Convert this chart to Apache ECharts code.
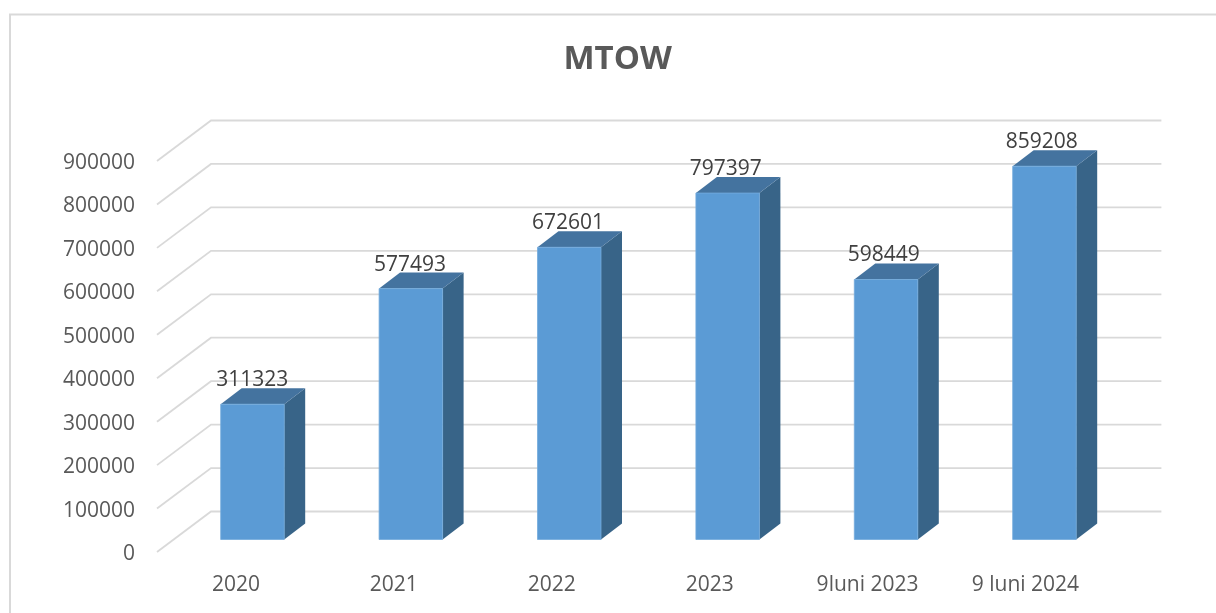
<!DOCTYPE html>
<html>
<head>
<meta charset="utf-8">
<style>
  html, body { margin: 0; padding: 0; background: #fff; }
  #chart { width: 1216px; height: 613px; }
</style>
<script src="https://cdn.jsdelivr.net/npm/echarts@6/dist/echarts.min.js"></script>
</head>
<body>
<div id="chart"></div>
<script>
const categories = ["2020", "2021", "2022", "2023", "9luni 2023", "9 luni 2024"];
const values = [311323, 577493, 672601, 797397, 598449, 859208];
const tickValues = [0, 100000, 200000, 300000, 400000, 500000, 600000, 700000, 800000, 900000];

const FONT = '"Open Sans", sans-serif';
// offsets of the fake 3D box, in pixels
const WALL_DX = 54, WALL_DY = -40.5;
const WALL_EXTRA_W = 3;
const BAR_DX = 16.5, BAR_DY = -12.5;
const BAR_STEP_EXTRA = 0.5; // bars sit a bit wider apart than the axis labels
const DEPTH_DX = 21, DEPTH_DY = -16;
const BAR_W = 63.5;
const LABEL_DX = 16.2;

const chart = echarts.init(document.getElementById("chart"), null, { renderer: "canvas" });

function renderWall(params, api) {
  const p = api.coord([0, api.value(1)]);
  const r = params.coordSys;
  return {
    type: "polyline",
    silent: true,
    shape: {
      points: [
        [r.x, p[1]],
        [r.x + WALL_DX, p[1] + WALL_DY],
        [r.x + r.width + WALL_DX + WALL_EXTRA_W, p[1] + WALL_DY]
      ]
    },
    style: { stroke: "#d9d9d9", lineWidth: 1.8, fill: null }
  };
}

function renderBar(params, api) {
  const top = api.coord([api.value(0), api.value(1)]);
  const base = api.coord([api.value(0), 0]);
  const x0 = top[0] + BAR_DX + params.dataIndex * BAR_STEP_EXTRA - BAR_W / 2;
  const x1 = x0 + BAR_W;
  const y0 = top[1] + BAR_DY;
  const y1 = base[1] + BAR_DY;
  return {
    type: "group",
    children: [
      {
        type: "polygon",
        shape: { points: [[x1, y0], [x1 + DEPTH_DX, y0 + DEPTH_DY], [x1 + DEPTH_DX, y1 + DEPTH_DY], [x1, y1]] },
        style: { fill: "#386488" }
      },
      {
        type: "polygon",
        shape: { points: [[x0, y0], [x0 + DEPTH_DX, y0 + DEPTH_DY], [x1 + DEPTH_DX, y0 + DEPTH_DY], [x1, y0]] },
        style: { fill: "#44739f" }
      },
      {
        type: "rect",
        shape: { x: x0, y: y0, width: BAR_W, height: y1 - y0 },
        style: { fill: "#5b9bd5", stroke: "#74abdc", lineWidth: 0.8 }
      },
      {
        type: "text",
        style: {
          text: String(api.value(1)),
          x: top[0] + LABEL_DX,
          y: y0 - 13.5,
          textAlign: "center",
          textVerticalAlign: "bottom",
          font: "21px " + FONT,
          fill: "#404040"
        }
      }
    ]
  };
}

chart.setOption({
  animation: false,
  backgroundColor: "#ffffff",
  title: {
    text: "MTOW",
    left: 558.5,
    top: 38.5,
    textStyle: { color: "#595959", fontFamily: FONT, fontSize: 33, fontWeight: "bold" }
  },
  graphic: [
    {
      type: "polyline",
      silent: true,
      shape: { points: [[10, 613], [10, 14.5], [1216, 14.5]] },
      style: { stroke: "#d9d9d9", lineWidth: 2, fill: null }
    }
  ],
  grid: { left: 157, top: 161, width: 947.4, height: 391 },
  xAxis: {
    type: "category",
    data: categories,
    axisLine: { show: false },
    axisTick: { show: false },
    splitLine: { show: false },
    axisLabel: { color: "#595959", fontFamily: FONT, fontSize: 21, margin: 23, interval: 0 }
  },
  yAxis: {
    type: "value",
    min: 0,
    max: 900000,
    interval: 100000,
    axisLine: { show: false },
    axisTick: { show: false },
    splitLine: { show: false },
    axisLabel: {
      margin: 22,
      formatter: v => "{t|" + v + "}",
      rich: {
        // nudges the tick text down to where it sits in the source
        t: { color: "#595959", fontFamily: FONT, fontSize: 21, padding: [4, 0, 0, 0] }
      }
    }
  },
  series: [
    {
      type: "custom",
      name: "wall",
      silent: true,
      z: 1,
      renderItem: renderWall,
      encode: { x: 0, y: 1 },
      data: tickValues.map(v => [0, v])
    },
    {
      type: "custom",
      name: "MTOW",
      z: 2,
      renderItem: renderBar,
      encode: { x: 0, y: 1 },
      data: values.map((v, i) => [i, v])
    }
  ]
});
</script>
</body>
</html>
